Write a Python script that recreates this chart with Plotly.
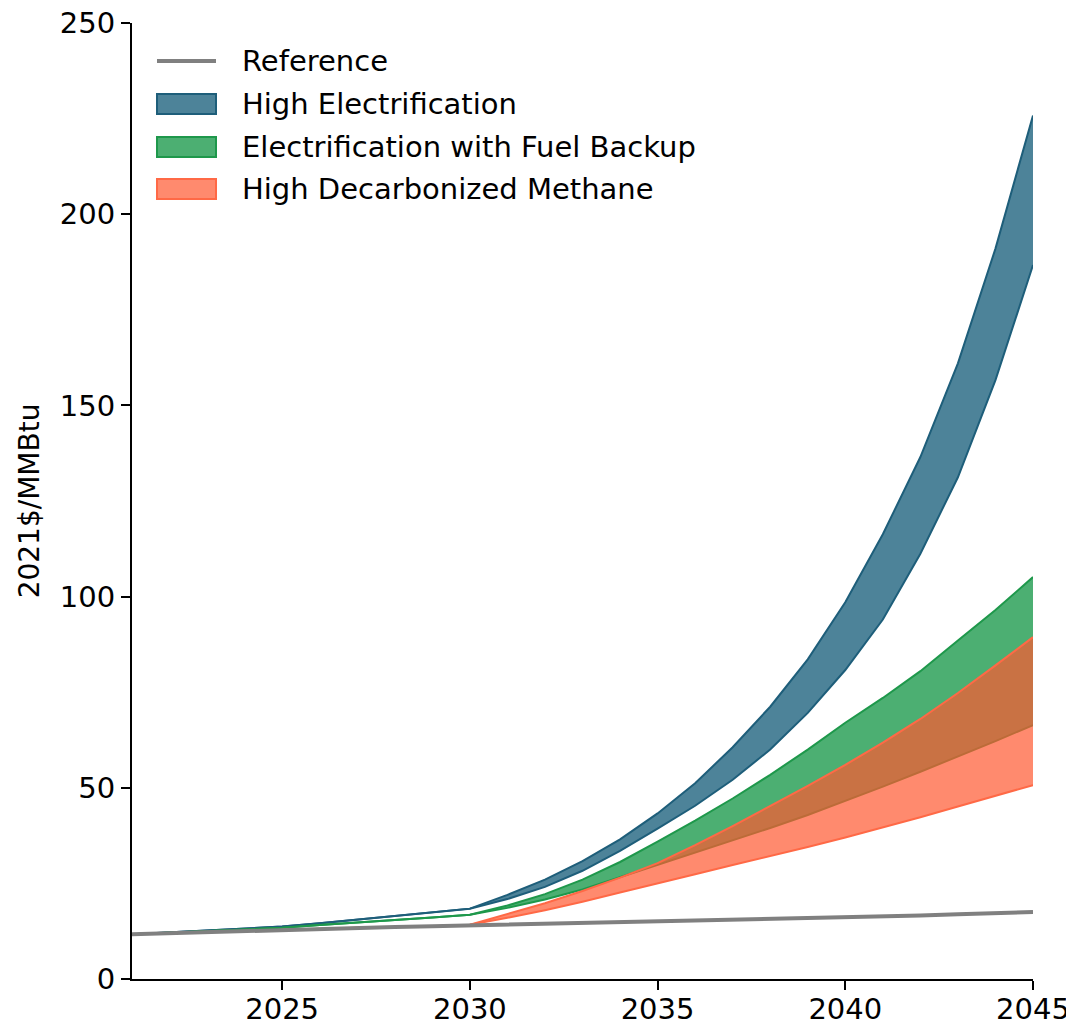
import plotly.graph_objects as go

years = list(range(2021, 2046))

reference = [11.7, 12.0, 12.3, 12.6, 12.9, 13.1, 13.4, 13.6, 13.8, 14.0,
             14.2, 14.4, 14.6, 14.8, 15.0, 15.2, 15.4, 15.6, 15.8, 16.0,
             16.3, 16.6, 16.9, 17.2, 17.5]

high_elec_upper = [11.7, 12.2, 12.7, 13.2, 13.7, 14.6, 15.6, 16.5, 17.5, 18.4,
                   22.0, 26.0, 30.8, 36.5, 43.3, 51.2, 60.6, 71.2, 83.6, 98.5,
                   116.3, 136.5, 161.0, 191.0, 225.8]
high_elec_lower = [11.7, 12.2, 12.7, 13.2, 13.7, 14.6, 15.6, 16.5, 17.5, 18.4,
                   20.9, 24.1, 28.3, 33.5, 39.3, 45.3, 52.1, 60.0, 69.6, 80.8,
                   94.0, 111.2, 131.2, 156.6, 186.7]

backup_upper = [11.7, 12.1, 12.5, 12.9, 13.4, 14.1, 14.7, 15.4, 16.1, 16.8,
                19.2, 22.2, 26.0, 30.6, 35.9, 41.4, 47.2, 53.4, 60.0, 67.0,
                73.5, 80.5, 88.5, 96.5, 105.1]
backup_lower = [11.7, 12.1, 12.5, 12.9, 13.4, 14.1, 14.7, 15.4, 16.1, 16.8,
                18.6, 20.8, 23.4, 26.6, 29.9, 33.0, 36.2, 39.5, 42.9, 46.5,
                50.3, 54.2, 58.1, 62.2, 66.4]

methane_upper = [11.7, 12.0, 12.3, 12.6, 12.9, 13.1, 13.4, 13.6, 13.8, 14.2,
                 16.9, 19.8, 23.0, 26.5, 30.3, 35.0, 40.0, 45.2, 50.5, 56.0,
                 61.8, 68.0, 74.8, 82.0, 89.4]
methane_lower = [11.7, 12.0, 12.3, 12.6, 12.9, 13.1, 13.4, 13.6, 13.8, 14.2,
                 16.0, 18.0, 20.2, 22.6, 25.1, 27.4, 29.8, 32.1, 34.5, 37.0,
                 39.6, 42.3, 45.1, 47.9, 50.7]

legend_labels = ["Reference", "High Electrification",
                 "Electrification with Fuel Backup", "High Decarbonized Methane"]

x_ticks = [2025, 2030, 2035, 2040, 2045]
y_ticks = [0, 50, 100, 150, 200, 250]

FONT = "DejaVu Sans"
FS = 29

bands = [
    (high_elec_lower, high_elec_upper, "rgba(2,79,109,0.7)", "rgb(30,94,122)"),
    (backup_lower, backup_upper, "rgba(0,141,54,0.7)", "rgb(30,152,75)"),
    (methane_lower, methane_upper, "rgba(255,88,48,0.7)", "rgb(255,105,70)"),
]

fig = go.Figure()
for lo, hi, fill, edge in bands:
    fig.add_trace(go.Scatter(x=years, y=lo, mode="lines",
                             line=dict(color=edge, width=2),
                             showlegend=False, hoverinfo="skip"))
    fig.add_trace(go.Scatter(x=years, y=hi, mode="lines", fill="tonexty",
                             fillcolor=fill, line=dict(color=edge, width=2),
                             showlegend=False, hoverinfo="skip"))

fig.add_trace(go.Scatter(x=years, y=reference, mode="lines",
                         line=dict(color="rgb(128,128,128)", width=4),
                         showlegend=False))

# The page body adds an 8px offset; figure coordinates are page - 8.
OFF = 8
W, H = 1074 - OFF, 1026 - OFF
L, R, T, B = 132 - OFF, 1033 - OFF, 23 - OFF, 979 - OFF


def px(xp):
    return (xp - OFF - L) / (R - L)


def py(yp):
    return (B - (yp - OFF)) / (B - T)


shapes = []
annotations = []
rows = [61, 104, 147, 189]
sym_x0, sym_x1 = 157, 216
shapes.append(dict(type="line", xref="paper", yref="paper",
                   x0=px(sym_x0), x1=px(sym_x1), y0=py(rows[0]), y1=py(rows[0]),
                   line=dict(color="rgb(128,128,128)", width=4)))
for i, (lo, hi, fill, edge) in enumerate(bands):
    yc = rows[i + 1]
    shapes.append(dict(type="rect", xref="paper", yref="paper",
                       x0=px(sym_x0), x1=px(sym_x1), y0=py(yc - 10), y1=py(yc + 10),
                       fillcolor=fill, line=dict(color=edge, width=2)))
for lab, yc in zip(legend_labels, rows):
    annotations.append(dict(xref="paper", yref="paper", x=px(240), y=py(yc),
                            text=lab, showarrow=False, xanchor="left",
                            yanchor="middle",
                            font=dict(family=FONT, size=FS, color="black")))

fig.update_layout(
    width=W, height=H,
    margin=dict(l=L, r=W - R, t=T, b=H - B, autoexpand=False),
    paper_bgcolor="white", plot_bgcolor="white",
    font=dict(family=FONT, size=FS, color="black"),
    shapes=shapes, annotations=annotations,
    showlegend=False,
)
fig.update_xaxes(range=[2021, 2045], tickvals=x_ticks, showgrid=False,
                 zeroline=False, showline=True, linecolor="black", linewidth=2,
                 ticks="outside", ticklen=9, tickwidth=2, tickcolor="black",
                 ticklabelstandoff=-6, automargin=False,
                 ticklabeloverflow="allow",
                 tickfont=dict(family=FONT, size=FS))
fig.update_yaxes(range=[0, 250], tickvals=y_ticks, showgrid=False,
                 zeroline=False, showline=True, linecolor="black", linewidth=2,
                 ticks="outside", ticklen=9, tickwidth=2, tickcolor="black",
                 ticklabelstandoff=0, automargin=False,
                 ticklabeloverflow="allow",
                 tickfont=dict(family=FONT, size=FS),
                 title=dict(text="2021$/MMBtu", standoff=12,
                            font=dict(family=FONT, size=28)))

fig.write_html("out.html")
